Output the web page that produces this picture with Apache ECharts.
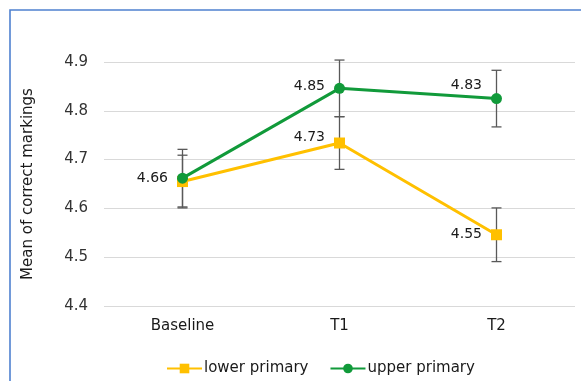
<!DOCTYPE html>
<html><head><meta charset="utf-8">
<script src="https://cdn.jsdelivr.net/npm/echarts@6/dist/echarts.min.js"></script>
<style>html,body{margin:0;padding:0;background:#fff}#c{width:581px;height:381px}</style>
</head><body><div id="c"></div>
<script>
var categories = ['Baseline', 'T1', 'T2'];
var lowerPrimary = [4.655, 4.734, 4.546];
var upperPrimary = [4.662, 4.846, 4.825];
var lowerErr = [0.054, 0.054, 0.055];
var upperErr = [0.059, 0.058, 0.058];
var lowerLabels = ['', '4.73', '4.55'];
var upperLabels = ['4.66', '4.85', '4.83'];
var yTicks = [4.4, 4.5, 4.6, 4.7, 4.8, 4.9];

var FONT = 'DejaVu Sans';
var chart = echarts.init(document.getElementById('c'), null, {renderer: 'canvas'});

function errSeries(vals, errs) {
  return {
    type: 'custom',
    z: 1,
    silent: true,
    data: vals.map(function (v, i) { return [i, v - errs[i], v + errs[i]]; }),
    renderItem: function (params, api) {
      var lo = api.coord([api.value(0), api.value(1)]);
      var hi = api.coord([api.value(0), api.value(2)]);
      var w = 5;
      var st = {stroke: '#595959', lineWidth: 1.3};
      return {type: 'group', children: [
        {type: 'line', shape: {x1: lo[0], y1: lo[1], x2: hi[0], y2: hi[1]}, style: st},
        {type: 'line', shape: {x1: lo[0] - w, y1: lo[1], x2: lo[0] + w, y2: lo[1]}, style: st},
        {type: 'line', shape: {x1: hi[0] - w, y1: hi[1], x2: hi[0] + w, y2: hi[1]}, style: st}
      ]};
    }
  };
}

function labelled(vals, labels, offsets) {
  return vals.map(function (v, i) {
    return {
      value: v,
      label: {show: labels[i] !== '', formatter: labels[i], position: 'left', distance: 9,
              offset: offsets[i], color: '#1a1a1a', fontFamily: FONT, fontSize: 14}
    };
  });
}

chart.setOption({
  animation: false,
  graphic: [{type: 'rect', shape: {x: 10, y: 10, width: 620, height: 420},
             style: {fill: 'none', stroke: '#4f81d0', lineWidth: 1.6}, z: 100}],
  grid: {left: 104, right: 6, top: 62, bottom: 75},
  legend: {
    left: 161, top: 356, itemWidth: 35, itemHeight: 12, itemGap: 21,
    textStyle: {fontFamily: FONT, fontSize: 15, color: '#1a1a1a', padding: [0, 0, 0, -3]},
    data: ['lower primary', 'upper primary']
  },
  xAxis: {
    type: 'category', data: categories, boundaryGap: true,
    axisLine: {show: false}, axisTick: {show: false},
    axisLabel: {fontFamily: FONT, fontSize: 15, color: '#1a1a1a', margin: 13}
  },
  yAxis: {
    type: 'value', min: 4.4, max: 4.9, interval: 0.1,
    name: 'Mean of correct markings', nameLocation: 'middle', nameGap: 68,
    nameTextStyle: {fontFamily: FONT, fontSize: 15, color: '#1a1a1a'},
    axisLine: {show: false}, axisTick: {show: false},
    axisLabel: {fontFamily: FONT, fontSize: 15, color: '#333333', margin: 16,
                formatter: function (v) { return v.toFixed(1); }},
    splitLine: {lineStyle: {color: '#d9d9d9', width: 1}}
  },
  series: [
    errSeries(lowerPrimary, lowerErr),
    errSeries(upperPrimary, upperErr),
    {
      name: 'lower primary', type: 'line', z: 3,
      data: labelled(lowerPrimary, lowerLabels, [[0, 0], [0, -6], [0, 0]]),
      symbol: 'rect', symbolSize: 11,
      lineStyle: {color: '#FFC000', width: 3},
      itemStyle: {color: '#FFC000'}
    },
    {
      name: 'upper primary', type: 'line', z: 4,
      data: labelled(upperPrimary, upperLabels, [[0, 0], [0, -2], [0, -13]]),
      symbol: 'circle', symbolSize: 11,
      lineStyle: {color: '#119A3A', width: 3},
      itemStyle: {color: '#119A3A'}
    }
  ]
});
</script></body></html>
